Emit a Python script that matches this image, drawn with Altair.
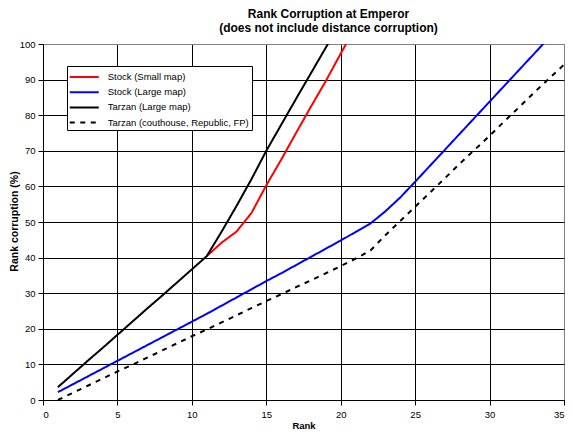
import altair as alt
import pandas as pd

series_names = ["Stock (Small map)", "Stock (Large map)", "Tarzan (Large map)",
                "Tarzan (couthouse, Republic, FP)"]
series_colors = ["#ff0000", "#0000ff", "#000000", "#000000"]
series_dashes = [[1, 0], [1, 0], [1, 0], [5, 5.5]]

red_ranks = list(range(11, 22))
red_vals = [40.4, 44.2, 47.3, 52.5, 60.3, 67.5, 75.0, 82.4, 89.6, 97.3, 104.8]

blue_ranks = list(range(1, 35))
blue_vals = [2.2, 4.4, 6.6, 8.8, 11.0, 13.2, 15.4, 17.6, 19.8, 22.0,
             24.2, 26.5, 28.8, 31.1, 33.4, 35.6, 37.9, 40.2, 42.5, 44.8,
             47.2, 49.6, 53.0, 56.9, 61.3, 65.8, 70.3, 74.8, 79.3, 83.8,
             88.3, 92.8, 97.3, 101.8]

black_ranks = list(range(1, 21))
black_vals = [3.6, 7.3, 11.0, 14.6, 18.3, 22.0, 25.7, 29.3, 33.0, 36.7,
              40.4, 47.3, 54.5, 62.0, 70.0, 77.3, 84.6, 91.8, 99.0, 106.2]

dash_ranks = list(range(1, 36))
dash_vals = [0.0, 2.0, 4.0, 6.0, 8.0, 9.9, 11.9, 13.9, 15.9, 17.9,
             19.8, 21.8, 23.8, 25.8, 27.8, 29.7, 31.7, 33.6, 35.6, 37.6,
             39.7, 42.0, 46.3, 50.3, 54.3, 58.3, 62.3, 66.4, 70.3, 74.2,
             78.3, 82.3, 86.4, 90.3, 94.2]

x_ticks = [0, 5, 10, 15, 20, 25, 30, 35]
y_ticks = [0, 10, 20, 30, 40, 50, 60, 70, 80, 90, 100]

rows = []
for name, ranks, vals in zip(series_names,
                             [red_ranks, blue_ranks, black_ranks, dash_ranks],
                             [red_vals, blue_vals, black_vals, dash_vals]):
    for r, v in zip(ranks, vals):
        rows.append({"series": name, "rank": r, "corr": v})
df = pd.DataFrame(rows)

FONT = "Liberation Sans"

legend = alt.Legend(
    title=None, orient="none", legendX=24, legendY=22,
    padding=2.5, strokeColor="black", fillColor="white",
    symbolType="M-2,0H2", symbolSize=210, symbolStrokeWidth=2,
    symbolOffset=6.25,
    labelFont=FONT, labelFontSize=9.5, labelColor="black",
    labelOffset=15, rowPadding=2.2, cornerRadius=0,
)

chart = alt.Chart(df).mark_line(clip=True, strokeWidth=2).encode(
    x=alt.X("rank:Q",
            scale=alt.Scale(domain=[0, 35], nice=False, zero=False),
            axis=alt.Axis(values=x_ticks, title="Rank", tickSize=5,
                          labelPadding=4, labelFlush=True, titleY=20, titleFontSize=9.5,
                          gridColor={"condition": {"test": "datum.value >= 35", "value": "#808080"},
                                     "value": "black"})),
    y=alt.Y("corr:Q",
            scale=alt.Scale(domain=[0, 100], nice=False),
            axis=alt.Axis(values=y_ticks, title="Rank corruption (%)", tickSize=5,
                          labelPadding=3, titleX=-24, titleY=177, titleFontSize=10.5,
                          gridColor={"condition": {"test": "datum.value >= 100", "value": "#808080"},
                                     "value": "black"})),
    color=alt.Color("series:N",
                    scale=alt.Scale(domain=series_names, range=series_colors),
                    legend=legend),
    strokeDash=alt.StrokeDash("series:N",
                              scale=alt.Scale(domain=series_names, range=series_dashes),
                              legend=legend),
).properties(
    width=521, height=356,
    title=alt.Title(["Rank Corruption at Emperor", "(does not include distance corruption)"],
                    font=FONT, fontSize=12, fontWeight="bold", color="black",
                    lineHeight=14, dx=25, offset=4, anchor="middle"),
    autosize=alt.AutoSizeParams(type="none"),
    padding={"left": 35, "top": 36, "right": 1, "bottom": 30},
    background="white",
).configure_axis(
    domainColor="black", tickColor="black", gridWidth=1, domainWidth=1,
    labelFont=FONT, labelFontSize=9.5, labelColor="black",
    titleFont=FONT, titleFontWeight="bold", titleColor="black",
).configure_view(stroke="#808080", strokeWidth=1)

chart.save("out.html", embed_options={"renderer": "svg", "actions": False})
